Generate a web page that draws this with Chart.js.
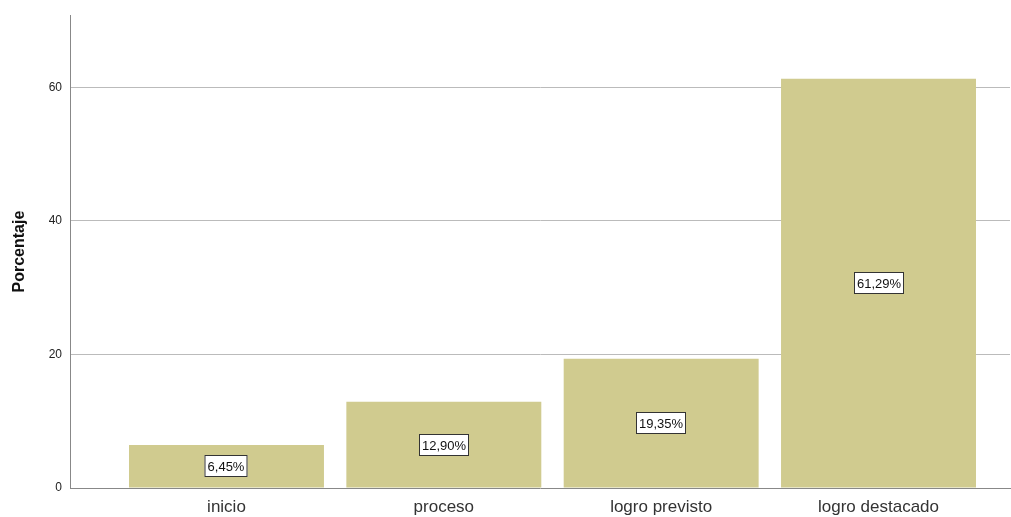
<!DOCTYPE html>
<html>
<head>
<meta charset="utf-8">
<script src="https://cdn.jsdelivr.net/npm/chart.js@4/dist/chart.umd.min.js"></script>
<style>
  html, body { margin: 0; padding: 0; background: #fff; }
  #wrap { width: 1011px; height: 517px; position: relative; }
</style>
</head>
<body>
<div id="wrap"><canvas id="chartNivel"></canvas></div>
<script>
(function () {
  'use strict';

  var categories = ['inicio', 'proceso', 'logro previsto', 'logro destacado'];
  var percentages = [6.45, 12.90, 19.35, 61.29];
  var percentLabels = ['6,45%', '12,90%', '19,35%', '61,29%'];
  var yTicks = [0, 20, 40, 60];

  var points = percentages.map(function (v, i) {
    return { x: i, y: v };
  });

  // boxed value labels in the middle of each bar
  var boxLabels = {
    id: 'boxLabels',
    afterDatasetsDraw: function (chart) {
      var ctx = chart.ctx;
      var meta = chart.getDatasetMeta(0);
      var yScale = chart.scales.y;
      ctx.save();
      ctx.font = '13px "Liberation Sans", Arial, sans-serif';
      ctx.textAlign = 'center';
      ctx.textBaseline = 'middle';
      meta.data.forEach(function (bar, i) {
        var cx = Math.round(bar.x);
        var cy = Math.round(yScale.getPixelForValue(percentages[i] / 2));
        var w = Math.round(ctx.measureText(percentLabels[i]).width) + 6;
        var h = 22;
        ctx.fillStyle = '#ffffff';
        ctx.fillRect(cx - w / 2, cy - h / 2, w, h);
        ctx.strokeStyle = '#333333';
        ctx.lineWidth = 1;
        ctx.strokeRect(cx - w / 2 + 0.5, cy - h / 2 + 0.5, w - 1, h - 1);
        ctx.fillStyle = '#111111';
        ctx.fillText(percentLabels[i], cx, cy + 1);
      });
      ctx.restore();
    }
  };

  new Chart(document.getElementById('chartNivel'), {
    type: 'bar',
    data: {
      datasets: [{
        data: points,
        backgroundColor: '#D0CB8F',
        borderWidth: 0,
        barPercentage: 0.897,
        categoryPercentage: 1
      }]
    },
    options: {
      responsive: true,
      maintainAspectRatio: false,
      animation: false,
      layout: { padding: { top: 15, right: 1, left: 0, bottom: 0 } },
      plugins: {
        legend: { display: false },
        tooltip: { enabled: false }
      },
      scales: {
        x: {
          type: 'linear',
          offset: false,
          min: -0.72,
          max: 3.605,
          grid: { display: false, drawTicks: false, offset: false },
          border: { display: true, color: '#888888', width: 1 },
          afterBuildTicks: function (scale) {
            scale.ticks = categories.map(function (c, i) { return { value: i }; });
          },
          afterFit: function (scale) { scale.height = 29; },
          ticks: {
            autoSkip: false,
            maxRotation: 0,
            padding: 9,
            color: '#333333',
            font: { family: '"Liberation Sans", Arial, sans-serif', size: 17 },
            callback: function (v) {
              return categories[v] !== undefined ? categories[v] : '';
            }
          }
        },
        y: {
          min: 0,
          max: 70.8,
          afterBuildTicks: function (scale) {
            scale.ticks = yTicks.map(function (t) { return { value: t }; });
          },
          afterFit: function (scale) { scale.width = 70; },
          grid: {
            drawTicks: false,
            color: function (c) { return c.tick && c.tick.value === 0 ? 'rgba(0,0,0,0)' : '#BBBBBB'; },
            lineWidth: 1
          },
          border: { display: true, color: '#888888', width: 1 },
          ticks: {
            padding: 8,
            color: '#222222',
            font: { family: '"Liberation Sans", Arial, sans-serif', size: 12 }
          },
          title: {
            display: true,
            text: 'Porcentaje',
            color: '#111111',
            padding: { top: 10, bottom: 0 },
            font: { family: '"Liberation Sans", Arial, sans-serif', size: 16, weight: 'bold' }
          }
        }
      }
    },
    plugins: [boxLabels]
  });
})();
</script>
</body>
</html>
